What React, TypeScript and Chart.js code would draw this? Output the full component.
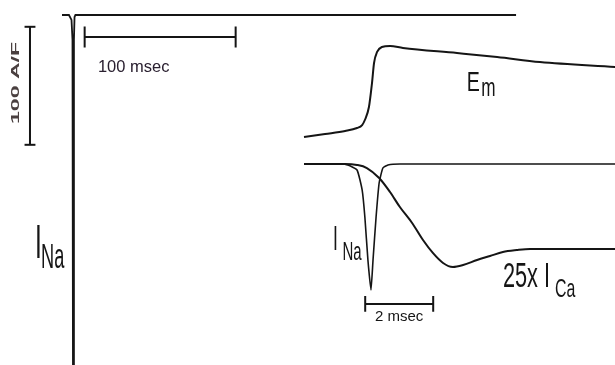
import React, { useEffect, useRef } from "react";
import { Chart, registerables } from "chart.js";
Chart.register(...registerables);

// ---- Full-scale trace (left): time in ms, current in A/F ----
const mainTimeMs = [0, 4.6, 6.3, 6.95, 7.3, 7.9, 8.3, 8.9, 300.7];
const mainCurrentAF = [0, 0, -4.2, -21, -330, -21, -1.7, 0, 0];

// ---- Inset: membrane potential (mV) ----
const emTimeMs = [0, 0.62, 1.21, 1.56, 1.71, 1.79, 1.91, 2.0, 2.06, 2.15, 2.29, 2.53, 2.91, 4.5, 5.68, 6.94, 9.15];
const emMv = [-82.7, -78.7, -74.7, -70.7, -66.7, -60, -42.7, -10.7, 16, 30.7, 37.3, 38.7, 36, 29.3, 24, 17.3, 10.7];

// ---- Inset: sodium current (A/F) ----
const inaTimeMs = [0, 1.06, 1.29, 1.56, 1.71, 1.79, 1.88, 1.97, 2.03, 2.12, 2.21, 2.32, 2.47, 2.82, 9.15];
const inaAF = [0, 0, -2.3, -13.8, -59.8, -122, -221, -290, -221, -122, -43.7, -9.2, -2.3, 0, 0];

// ---- Inset: calcium current (A/F), drawn 25x ----
const icaTimeMs = [0, 1.21, 1.56, 1.85, 2.21, 2.53, 2.82, 3.18, 3.5, 3.79, 4.09, 4.38, 4.68, 5.09, 5.47, 5.85, 6.26, 6.65, 9.15];
const icaAF = [0, 0, -0.09, -0.37, -1.29, -2.58, -3.96, -5.43, -7.0, -8.19, -9.11, -9.48, -9.3, -8.84, -8.47, -8.1, -7.92, -7.82, -7.82];
const icaGain = 25;

// ---- Scale bars ----
const ampBarAF = [-10, -110]; // 100 A/F
const timeBarMs = [15, 115]; // 100 msec
const insetTimeBarMs = [1.8, 3.8]; // 2 msec

const W = 615;
const H = 365;
const INK = "#151515";

type Label = {
  text: string; xs: string; ys: string; x: number; y: number;
  size: number; sx: number; weight?: string; color?: string;
  align?: CanvasTextAlign; base?: CanvasTextBaseline; rot?: number;
};

const labels: Label[] = [
  { text: "100 msec", xs: "xL", ys: "yL", x: 23.8, y: -48.5, size: 17, sx: 0.97, color: "#2a2030" },
  { text: "100 A/F", xs: "xL", ys: "yL", x: -30.5, y: -57.6, size: 11, sx: 2.1, weight: "bold", color: "#4a4040", align: "center", base: "middle", rot: -Math.PI / 2 },
  { text: "I", xs: "xL", ys: "yL", x: -17.9, y: -205.9, size: 49, sx: 0.5 },
  { text: "Na", xs: "xL", ys: "yL", x: -13.9, y: -214.4, size: 35, sx: 0.52 },
  { text: "I", xs: "xR", ys: "yI", x: 0.85, y: -197.9, size: 35, sx: 0.5 },
  { text: "Na", xs: "xR", ys: "yI", x: 1.13, y: -220.9, size: 25, sx: 0.6 },
  { text: "E", xs: "xR", ys: "yEm", x: 4.79, y: -21, size: 28, sx: 0.7 },
  { text: "m", xs: "xR", ys: "yEm", x: 5.21, y: -27.5, size: 26, sx: 0.66 },
  { text: "25x I", xs: "xR", ys: "yI", x: 5.85, y: -283, size: 35, sx: 0.62 },
  { text: "Ca", xs: "xR", ys: "yI", x: 7.38, y: -306, size: 26.5, sx: 0.6 },
  { text: "2 msec", xs: "xR", ys: "yI", x: 2.8, y: -361, size: 15, sx: 1.0, align: "center" },
];

const textPlugin = {
  id: "figLabels",
  afterDatasetsDraw(chart: any) {
    const c = chart.ctx as CanvasRenderingContext2D;
    for (const l of labels) {
      const px = chart.scales[l.xs].getPixelForValue(l.x);
      const py = chart.scales[l.ys].getPixelForValue(l.y);
      c.save();
      c.translate(px, py);
      if (l.rot) c.rotate(l.rot);
      c.scale(l.sx, 1);
      c.font = `${l.weight || "normal"} ${l.size}px "Liberation Sans", Arial, sans-serif`;
      c.fillStyle = l.color || INK;
      c.textAlign = l.align || "left";
      c.textBaseline = l.base || "alphabetic";
      c.fillText(l.text, 0, 0);
      c.restore();
    }
  },
};

const pts = (xs: number[], ys: number[], k = 1) => xs.map((x, i) => ({ x, y: ys[i] * k }));

const seg = (xs: string, ys: string, p: { x: number; y: number }[], width = 2) => ({
  data: p, xAxisID: xs, yAxisID: ys, borderColor: INK, borderWidth: width,
  pointRadius: 0, tension: 0, fill: false,
});

export default function App() {
  const ref = useRef<HTMLCanvasElement>(null);
  useEffect(() => {
    document.body.style.margin = "0";
    const canvas = ref.current!;
    const barX = -21.2;
    const barTimeY = -18.6;
    const insetBarY = -322;
    const chart = new Chart(canvas, {
      type: "line",
      data: {
        datasets: [
          { ...seg("xL", "yL", pts(mainTimeMs, mainCurrentAF), 1.8) },
          { ...seg("xR", "yEm", pts(emTimeMs, emMv)), cubicInterpolationMode: "monotone" },
          { ...seg("xR", "yI", pts(inaTimeMs, inaAF), 1.6), tension: 0.15 },
          { ...seg("xR", "yI", pts(icaTimeMs, icaAF, icaGain)), cubicInterpolationMode: "monotone" },
          // 100 A/F bar
          seg("xL", "yL", [{ x: barX, y: ampBarAF[0] }, { x: barX, y: ampBarAF[1] }]),
          seg("xL", "yL", [{ x: barX - 3.6, y: ampBarAF[0] }, { x: barX + 3.6, y: ampBarAF[0] }]),
          seg("xL", "yL", [{ x: barX - 3.6, y: ampBarAF[1] }, { x: barX + 3.6, y: ampBarAF[1] }]),
          // 100 msec bar
          seg("xL", "yL", [{ x: timeBarMs[0], y: barTimeY }, { x: timeBarMs[1], y: barTimeY }]),
          seg("xL", "yL", [{ x: timeBarMs[0], y: barTimeY + 8.9 }, { x: timeBarMs[0], y: barTimeY - 8.9 }]),
          seg("xL", "yL", [{ x: timeBarMs[1], y: barTimeY + 8.9 }, { x: timeBarMs[1], y: barTimeY - 8.9 }]),
          // 2 msec bar
          seg("xR", "yI", [{ x: insetTimeBarMs[0], y: insetBarY }, { x: insetTimeBarMs[1], y: insetBarY }]),
          seg("xR", "yI", [{ x: insetTimeBarMs[0], y: insetBarY + 18 }, { x: insetTimeBarMs[0], y: insetBarY - 18 }]),
          seg("xR", "yI", [{ x: insetTimeBarMs[1], y: insetBarY + 18 }, { x: insetTimeBarMs[1], y: insetBarY - 18 }]),
        ] as any,
      },
      options: {
        responsive: false,
        devicePixelRatio: 1,
        animation: false,
        layout: { padding: 0 },
        plugins: { legend: { display: false }, tooltip: { enabled: false } },
        scales: {
          xL: { type: "linear", display: false, min: -62 / 1.51, max: 553 / 1.51 },
          yL: { type: "linear", display: false, min: -350 / 1.18, max: 15 / 1.18 },
          xR: { type: "linear", display: false, min: -304 / 34, max: 311 / 34 },
          yEm: { type: "linear", display: false, min: -290 / 0.75, max: 75 / 0.75 },
          yI: { type: "linear", display: false, min: -201 / 0.4345, max: 164 / 0.4345 },
        },
      },
      plugins: [textPlugin],
    });
    return () => chart.destroy();
  }, []);
  return (
    <div style={{ position: "absolute", left: 0, top: 0, width: W, height: H, background: "#fff" }}>
      <canvas ref={ref} width={W} height={H} style={{ display: "block", width: W, height: H }} />
    </div>
  );
}
